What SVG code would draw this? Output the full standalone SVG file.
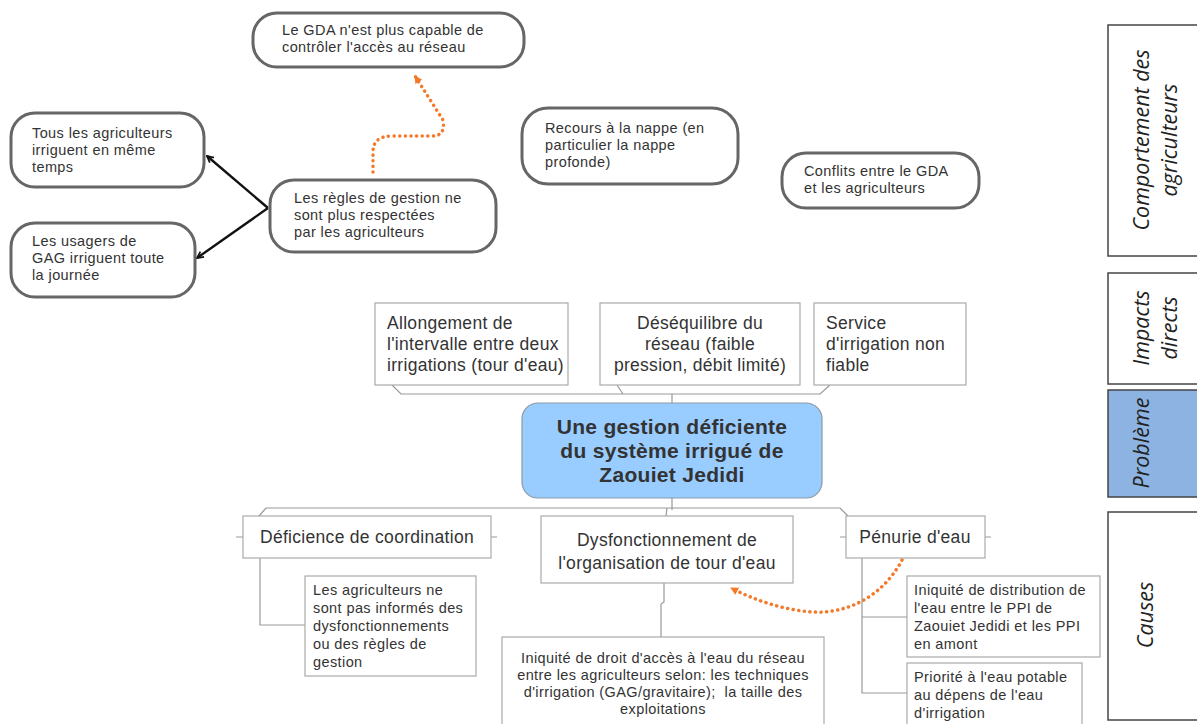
<svg xmlns="http://www.w3.org/2000/svg" width="1197" height="724" viewBox="0 0 1197 724">
<defs>
<style>
.bub{fill:#fff;stroke:#666;stroke-width:3}
.bt{font-family:"Liberation Sans",Arial,sans-serif;font-size:14.5px;letter-spacing:0.4px;fill:#333}
.box{fill:#fff;stroke:#aaa;stroke-width:1.2}
.mt{font-family:"Liberation Sans",Arial,sans-serif;font-size:17.5px;letter-spacing:0.3px;fill:#333}
.st{font-family:"Liberation Sans",Arial,sans-serif;font-size:14.5px;letter-spacing:0.4px;fill:#333}
.tree{fill:none;stroke:#999;stroke-width:1.2}
.blk{fill:none;stroke:#111;stroke-width:2.4}
.dot{fill:none;stroke:#f47a2a;stroke-width:3.5;stroke-dasharray:0.1 5.5;stroke-linecap:round}
.lab{fill:#fff;stroke:#444;stroke-width:1.5}
.lt{font-family:"Open Sans","Liberation Sans",sans-serif;font-style:italic;font-size:21.5px;fill:#222}
</style>
<marker id="ab" viewBox="0 0 10 10" refX="9" refY="5" markerWidth="8" markerHeight="8" orient="auto" markerUnits="userSpaceOnUse">
<path d="M1,1 L9,5 L1,9" fill="none" stroke="#111" stroke-width="2.2"/>
</marker>
<marker id="ao" viewBox="0 0 10 10" refX="8" refY="5" markerWidth="10" markerHeight="10" orient="auto" markerUnits="userSpaceOnUse">
<path d="M1,1 L9,5 L1,9 Z" fill="#f47a2a"/>
</marker>
</defs>
<rect width="1197" height="724" fill="#fff"/>

<g id="connectors">
<line class="blk" x1="268" y1="208" x2="207" y2="156" marker-end="url(#ab)"/>
<line class="blk" x1="268" y1="208" x2="197" y2="258" marker-end="url(#ab)"/>
<path class="dot" d="M373,172 L373,152 Q373,136 392,136 L432,136 Q446,136 443,120 L415,76" marker-end="url(#ao)"/>
<path class="dot" d="M902,560 C882,598 845,614 813,612 C782,610 752,599 731,588" marker-end="url(#ao)"/>
<path class="tree" d="M392,385 L401,394 L820,394 L830,385 M617,385 L623,394 M672,394 L672,403"/>
<path class="tree" d="M672,498 L672,510 M259,516 L266,508 L840,508 L848,516 M667,508 L666,516"/>
<path class="tree" d="M236,537 L243,537 M491,537 L497,537 M840,537 L846,537 M985,537 L991,537"/>
<path class="tree" d="M260,558 L260,625 L305,625"/>
<path class="tree" d="M664,583 L664,602 L661,604 L661,637"/>
<path class="tree" d="M862,558 L862,693 L907,693 M862,617 L907,617"/>
</g>

<g id="n-gda"><rect class="bub" x="253" y="13" width="271" height="54" rx="24"/>
<text class="bt" x="282" y="35">Le GDA n'est plus capable de</text><text class="bt" x="282" y="52">contrôler l'accès au réseau</text></g>
<g id="n-tous"><rect class="bub" x="11" y="113" width="193" height="74" rx="24"/>
<text class="bt" x="32" y="138">Tous les agriculteurs</text><text class="bt" x="32" y="155">irriguent en même</text><text class="bt" x="32" y="172">temps</text></g>
<g id="n-usagers"><rect class="bub" x="11" y="223" width="184" height="74" rx="24"/>
<text class="bt" x="32" y="246">Les usagers de</text><text class="bt" x="32" y="263">GAG irriguent toute</text><text class="bt" x="32" y="280">la journée</text></g>
<g id="n-regles"><rect class="bub" x="270" y="180" width="226" height="72" rx="24"/>
<text class="bt" x="294" y="203">Les règles de gestion ne</text><text class="bt" x="294" y="220">sont plus respectées</text><text class="bt" x="294" y="237">par les agriculteurs</text></g>
<g id="n-nappe"><rect class="bub" x="522" y="108" width="216" height="76" rx="26"/>
<text class="bt" x="545" y="133">Recours à la nappe (en</text><text class="bt" x="545" y="150">particulier la nappe</text><text class="bt" x="545" y="167">profonde)</text></g>
<g id="n-conflits"><rect class="bub" x="782" y="153" width="197" height="55" rx="24"/>
<text class="bt" x="804" y="176">Conflits entre le GDA</text><text class="bt" x="804" y="193">et les agriculteurs</text></g>

<g id="n-allong"><rect class="box" x="375" y="303" width="193" height="82"/>
<text class="mt" x="387" y="329">Allongement de</text><text class="mt" x="387" y="350">l'intervalle entre deux</text><text class="mt" x="387" y="371">irrigations (tour d'eau)</text></g>
<g id="n-deseq"><rect class="box" x="600" y="303" width="200" height="82"/>
<text class="mt" text-anchor="middle" x="700" y="329">Déséquilibre du</text><text class="mt" text-anchor="middle" x="700" y="350">réseau (faible</text><text class="mt" text-anchor="middle" x="700" y="371">pression, débit limité)</text></g>
<g id="n-service"><rect class="box" x="814" y="303" width="152" height="82"/>
<text class="mt" x="826" y="329">Service</text><text class="mt" x="826" y="350">d'irrigation non</text><text class="mt" x="826" y="371">fiable</text></g>

<g id="n-main"><rect x="522" y="403" width="300" height="95" rx="16" fill="#99ccff" stroke="#8a9aaa" stroke-width="1.2"/>
<text font-family="Liberation Sans,Arial,sans-serif" font-weight="bold" font-size="21" letter-spacing="0.3" fill="#333" text-anchor="middle"><tspan x="672" y="434">Une gestion déficiente</tspan><tspan x="672" y="458">du système irrigué de</tspan><tspan x="672" y="482">Zaouiet Jedidi</tspan></text></g>

<g id="n-defic"><rect class="box" x="243" y="516" width="248" height="42"/>
<text class="mt" text-anchor="middle" x="367" y="543">Déficience de coordination</text></g>
<g id="n-dysf"><rect class="box" x="541" y="516" width="252" height="67"/>
<text class="mt" text-anchor="middle" x="667" y="546">Dysfonctionnement de</text><text class="mt" text-anchor="middle" x="667" y="569">l'organisation de tour d'eau</text></g>
<g id="n-penurie"><rect class="box" x="846" y="516" width="139" height="42"/>
<text class="mt" text-anchor="middle" x="915" y="543">Pénurie d'eau</text></g>

<g id="n-info"><rect class="box" x="305" y="576" width="171" height="100"/>
<text class="st" x="313" y="595">Les agriculteurs ne</text><text class="st" x="313" y="613">sont pas informés des</text><text class="st" x="313" y="631">dysfonctionnements</text><text class="st" x="313" y="649">ou des règles de</text><text class="st" x="313" y="667">gestion</text></g>
<g id="n-droit"><rect class="box" x="502" y="637" width="322" height="95"/>
<text class="st" text-anchor="middle" x="663" y="663">Iniquité de droit d'accès à l'eau du réseau</text><text class="st" text-anchor="middle" x="663" y="680">entre les agriculteurs selon: les techniques</text><text class="st" text-anchor="middle" x="663" y="697">d'irrigation (GAG/gravitaire);&#160; la taille des</text><text class="st" text-anchor="middle" x="663" y="714">exploitations</text></g>
<g id="n-distrib"><rect class="box" x="907" y="576" width="193" height="81"/>
<text class="st" x="914" y="595">Iniquité de distribution de</text><text class="st" x="914" y="613">l'eau entre le PPI de</text><text class="st" x="914" y="631">Zaouiet Jedidi et les PPI</text><text class="st" x="914" y="649">en amont</text></g>
<g id="n-potable"><rect class="box" x="907" y="663" width="175" height="70"/>
<text class="st" x="914" y="682">Priorité à l'eau potable</text><text class="st" x="914" y="700">au dépens de l'eau</text><text class="st" x="914" y="718">d'irrigation</text></g>

<g id="labels">
<rect class="lab" x="1108" y="25" width="100" height="231"/>
<text class="lt" text-anchor="middle" transform="translate(1149,140) rotate(-90)">Comportement des</text>
<text class="lt" text-anchor="middle" transform="translate(1177,140) rotate(-90)">agriculteurs</text>
<rect class="lab" x="1108" y="273" width="100" height="111"/>
<text class="lt" text-anchor="middle" transform="translate(1149,328) rotate(-90)">Impacts</text>
<text class="lt" text-anchor="middle" transform="translate(1177,328) rotate(-90)">directs</text>
<rect x="1108" y="390" width="100" height="107" fill="#8db3e2" stroke="#444" stroke-width="1.5"/>
<text class="lt" text-anchor="middle" transform="translate(1149,443) rotate(-90)">Problème</text>
<rect class="lab" x="1108" y="512" width="100" height="208"/>
<text class="lt" text-anchor="middle" transform="translate(1153,615) rotate(-90)">Causes</text>
</g>
</svg>
